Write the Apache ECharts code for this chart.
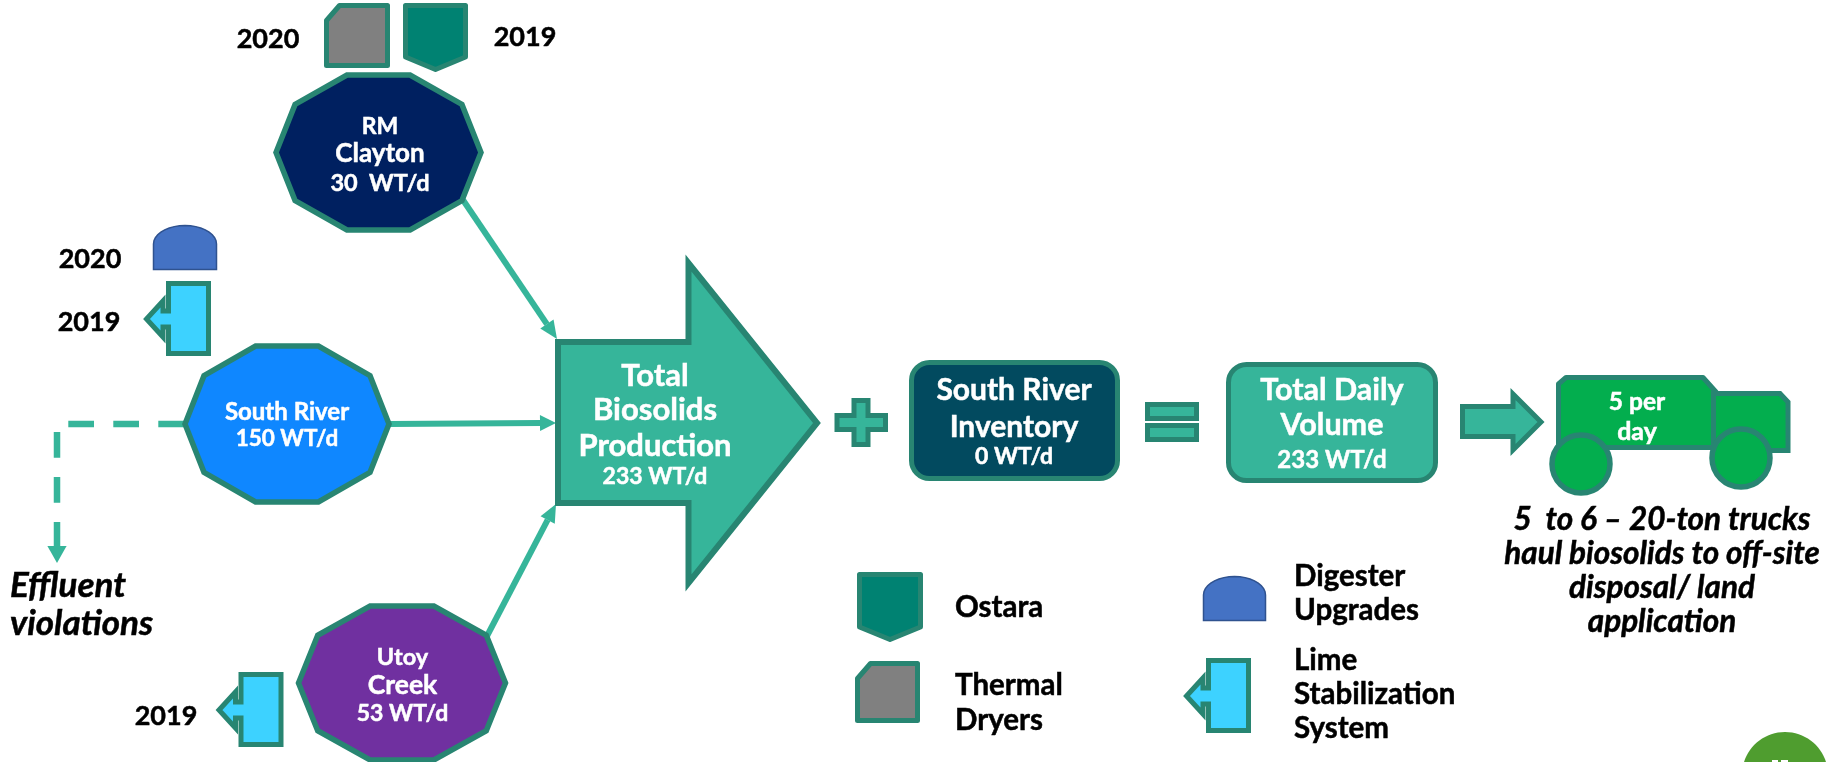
<!DOCTYPE html>
<html>
<head>
<meta charset="utf-8">
<style>html,body{margin:0;padding:0;background:#fff}#c{width:1835px;height:762px}</style>
<script src="https://cdn.jsdelivr.net/npm/echarts@6/dist/echarts.min.js"></script>
</head>
<body>
<div id="c"></div>
<script>
// ---------- content ----------
const plantLines = [['RM', 'Clayton'], ['South River'], ['Utoy', 'Creek']];
const plantFlows = [30, 150, 53];
const totalProduction = 233;
const inventory = 0;
const dailyVolume = 233;
const trucksPerDay = 5;
const yearLabels = ['2020', '2019'];
const totalLines = ['Total', 'Biosolids', 'Production'];
const inventoryLines = ['South River', 'Inventory'];
const volumeLines = ['Total Daily', 'Volume'];
const effluentLines = ['Effluent', 'violations'];
const haulLines = ['5  to 6 \u2013 20-ton trucks', 'haul biosolids to off-site', 'disposal/ land', 'application'];
const legendOstara = ['Ostara'];
const legendDryers = ['Thermal', 'Dryers'];
const legendDigester = ['Digester', 'Upgrades'];
const legendLime = ['Lime', 'Stabilization', 'System'];
const unit = ' WT/d';

// ---------- palette ----------
const TEAL = '#36B59A', EDGE = '#288572', OSTARA = '#008272', GRAY = '#808080', CYAN = '#3DD2FF',
      BLUE = '#4472C4', BLUE_EDGE = '#2F528F', TRUCK = '#03AE4E', NAVY = '#002060', SKY = '#0F87FF',
      PURPLE = '#7030A0', INK = '#024A5F', WHITE = '#fff', BLACK = '#000', BADGE = '#4F9D2F';
const FONT = 'Lato, "Open Sans", sans-serif';

// ---------- mark builders ----------
const marks = [];
const poly = (pts, fill, stroke, lw, join) => marks.push({k: 'poly', pts, fill, stroke, lw: lw || 0, join: join || 'miter'});
const line = (pts, stroke, lw, dash) => marks.push({k: 'line', pts, stroke, lw, dash});
const round = (x0, y0, x1, y1, r, fill, stroke, lw) => marks.push({k: 'rect', x0, y0, x1, y1, r, fill, stroke, lw});
const oval = (cx, cy, rx, ry, fill, stroke, lw) => marks.push({k: 'oval', cx, cy, rx, ry, fill, stroke, lw});
const text = (t, x, y, size, fill, opt) => marks.push(Object.assign({k: 'text', t, x, y, size, fill}, opt || {}));

function decagon(l, t, r, b, fill) {
  const w = r - l, h = b - t;
  const fx = [.346, .654, .907, 1, .907, .654, .346, .093, 0, .093];
  const fy = [0, 0, .19, .5, .81, 1, 1, .81, .5, .19];
  poly(fx.map((f, i) => [l + f * w, t + fy[i] * h]), fill, EDGE, 5.5);
}
function limeIcon(dx, dy) {
  poly([[208.5, 283.5], [168.5, 283.5], [168.5, 311], [163, 311], [163, 301], [146.5, 319], [163, 337], [163, 327], [168.5, 327], [168.5, 353.5], [208.5, 353.5]]
    .map(p => [p[0] + dx, p[1] + dy]), CYAN, EDGE, 5);
}
function digester(l, t, r, b) {
  const pts = [[r, b], [l, b]], cx = (l + r) / 2, rx = (r - l) / 2, ry = (b - t) * .42, yb = t + ry;
  for (let a = 180; a <= 360; a += 10) {
    pts.push([cx + rx * Math.cos(a * Math.PI / 180), yb + ry * Math.sin(a * Math.PI / 180)]);
  }
  poly(pts, BLUE, BLUE_EDGE, 1.5);
}
const dryer = (l, t, r, b) => poly([[l, t + 15], [l + 13, t], [r, t], [r, b], [l, b]], GRAY, EDGE, 5, 'round');
const ostara = (l, t, r, s, tip) => poly([[l, t], [r, t], [r, s], [(l + r) / 2, tip], [l, s]], OSTARA, EDGE, 5, 'round');
function arrowLine(a, b, lw, len, half) {
  const dx = b[0] - a[0], dy = b[1] - a[1], d = Math.hypot(dx, dy), ux = dx / d, uy = dy / d;
  const base = [b[0] - ux * len, b[1] - uy * len];
  line([a, base], TEAL, lw);
  poly([b, [base[0] - uy * half, base[1] + ux * half], [base[0] + uy * half, base[1] - ux * half]], TEAL);
}
const leftText = (arr, x, ys, size) => arr.forEach((t, i) => text(t, x, ys[i], size, BLACK, {align: 'left'}));

// ---------- connectors ----------
line([[184, 424], [57, 424], [57, 548]], TEAL, 6.5, [25.7, 19.3]);
poly([[57, 563], [47.4, 546], [66.6, 546]], TEAL);
arrowLine([463, 200], [557, 339], 6, 18, 8);
arrowLine([390, 424], [556, 423], 6, 16, 8);
arrowLine([487, 636], [556, 504], 6, 18, 8);

// ---------- plants ----------
decagon(276, 75, 481, 230, NAVY);
decagon(185, 346, 389, 502, SKY);
decagon(298.5, 606, 505.5, 760, PURPLE);
text(plantLines[0][0], 380, 127, 23, WHITE);
text(plantLines[0][1], 380, 154, 26, WHITE);
text(plantFlows[0] + ' ' + unit, 380, 183, 23.5, WHITE);
text(plantLines[1][0], 287, 412, 24, WHITE);
text(plantFlows[1] + unit, 287, 439, 22.5, WHITE);
text(plantLines[2][0], 402.5, 657, 23.5, WHITE);
text(plantLines[2][1], 402.5, 685, 26.5, WHITE);
text(plantFlows[2] + unit, 402.5, 714, 23, WHITE);

// ---------- top icons & upgrade icons ----------
dryer(326.5, 5.5, 387.5, 65.5);
ostara(405.5, 5.5, 465.5, 57, 69.5);
text(yearLabels[0], 268, 39, 27, BLACK);
text(yearLabels[1], 525, 37, 27, BLACK);
digester(153.5, 225.5, 216.5, 269.5);
limeIcon(0, 0);
text(yearLabels[0], 90, 259, 27, BLACK);
text(yearLabels[1], 89, 322, 27, BLACK);
limeIcon(72.5, 391);
text(yearLabels[1], 166, 716, 27, BLACK);
effluentLines.forEach((t, i) => text(t, 10, [586, 624][i], 35, BLACK, {align: 'left', italic: true}));

// ---------- main flow ----------
poly([[558, 342], [688.5, 342], [688.5, 263], [817, 423], [688.5, 583], [688.5, 503], [558, 503]], TEAL, EDGE, 6);
totalLines.forEach((t, i) => text(t, 655, [375.5, 410, 445.5][i], 31, WHITE));
text(totalProduction + unit, 655, 477, 23, WHITE);

poly([[837, 415.5], [854, 415.5], [854, 400.5], [868, 400.5], [868, 415.5], [885.5, 415.5], [885.5, 429.5], [868, 429.5], [868, 444.5], [854, 444.5], [854, 429.5], [837, 429.5]], TEAL, EDGE, 5);

round(911.5, 362.5, 1117.5, 478.5, 18, INK, EDGE, 5);
inventoryLines.forEach((t, i) => text(t, 1014, [390, 427][i], 30, WHITE));
text(inventory + unit, 1014, 457, 23, WHITE);

poly([[1147.5, 404.5], [1196.5, 404.5], [1196.5, 418.5], [1147.5, 418.5]], TEAL, EDGE, 5);
poly([[1147.5, 425.5], [1196.5, 425.5], [1196.5, 439.5], [1147.5, 439.5]], TEAL, EDGE, 5);

round(1228.5, 364.5, 1435.5, 480.5, 18, TEAL, EDGE, 5);
volumeLines.forEach((t, i) => text(t, 1332, [390.5, 425][i], 30.5, WHITE));
text(dailyVolume + unit, 1332, 460, 24, WHITE);

poly([[1462.5, 406.5], [1513, 406.5], [1513, 394], [1541, 422], [1513, 450], [1513, 436.5], [1462.5, 436.5]], TEAL, EDGE, 5);

// ---------- truck ----------
poly([[1558.5, 384], [1566, 377.5], [1703, 377.5], [1716, 392], [1716, 447.5], [1558.5, 447.5]], TRUCK, EDGE, 5, 'round');
poly([[1713.5, 393.5], [1780, 393.5], [1788, 402], [1788, 450.5], [1713.5, 450.5]], TRUCK, EDGE, 5);
oval(1581, 464, 29, 29, TRUCK, EDGE, 5.5);
oval(1741, 458, 29, 29, TRUCK, EDGE, 5.5);
text(trucksPerDay + ' per', 1637, 402, 24.5, WHITE);
text('day', 1637, 432, 25, WHITE);
haulLines.forEach((t, i) => text(t, 1662, [520, 554, 588, 622][i], 31.5, BLACK, {italic: true}));

// ---------- legend ----------
ostara(859.5, 574.5, 920.5, 627, 639.5);
dryer(857.5, 663.5, 917.5, 720.5);
digester(1203.5, 576.5, 1265.5, 620.5);
limeIcon(1040, 377);
leftText(legendOstara, 955, [607], 29.5);
leftText(legendDryers, 955, [685, 720], 29.5);
leftText(legendDigester, 1294, [576, 610], 29.5);
leftText(legendLime, 1294, [660, 694, 728], 29.5);

// ---------- page badge ----------
oval(1785, 775, 43, 43, BADGE);
poly([[1772, 760], [1778, 760], [1778, 762], [1772, 762]], WHITE);
poly([[1781, 760], [1788, 760], [1788, 762], [1781, 762]], WHITE);

// ---------- render through hidden axes ----------
function renderItem(params, api) {
  const m = marks[params.dataIndex], c = p => api.coord(p);
  if (m.k === 'poly') {
    return {type: 'polygon', shape: {points: m.pts.map(c)},
      style: {fill: m.fill, stroke: m.lw ? m.stroke : null, lineWidth: m.lw, lineJoin: m.join, miterLimit: 10}};
  }
  if (m.k === 'line') {
    return {type: 'polyline', shape: {points: m.pts.map(c)},
      style: {fill: null, stroke: m.stroke, lineWidth: m.lw, lineDash: m.dash || null, lineCap: 'butt', lineJoin: 'miter'}};
  }
  if (m.k === 'rect') {
    const a = c([m.x0, m.y0]), b = c([m.x1, m.y1]);
    return {type: 'rect', shape: {x: a[0], y: a[1], width: b[0] - a[0], height: b[1] - a[1], r: m.r},
      style: {fill: m.fill, stroke: m.stroke, lineWidth: m.lw}};
  }
  if (m.k === 'oval') {
    const a = c([m.cx, m.cy]);
    return {type: 'ellipse', shape: {cx: a[0], cy: a[1], rx: m.rx, ry: m.ry},
      style: {fill: m.fill, stroke: m.stroke || null, lineWidth: m.lw || 0}};
  }
  const p = c([m.x, m.y]);
  return {type: 'text', x: p[0], y: p[1],
    style: {text: m.t, fill: m.fill, stroke: m.fill, lineWidth: 0.5,
      font: (m.italic ? 'italic ' : '') + '700 ' + m.size + 'px ' + FONT,
      textAlign: m.align || 'center', textVerticalAlign: 'middle'}};
}

const chart = echarts.init(document.getElementById('c'), null, {renderer: 'canvas'});
chart.setOption({
  animation: false,
  backgroundColor: '#fff',
  grid: {left: 0, right: 0, top: 0, bottom: 0},
  xAxis: {type: 'value', min: 0, max: 1835, show: false},
  yAxis: {type: 'value', min: 0, max: 762, inverse: true, show: false},
  tooltip: {show: false},
  series: [{type: 'custom', coordinateSystem: 'cartesian2d', clip: false, silent: true,
    renderItem, data: marks.map((m, i) => [i])}]
});
</script>
</body>
</html>
